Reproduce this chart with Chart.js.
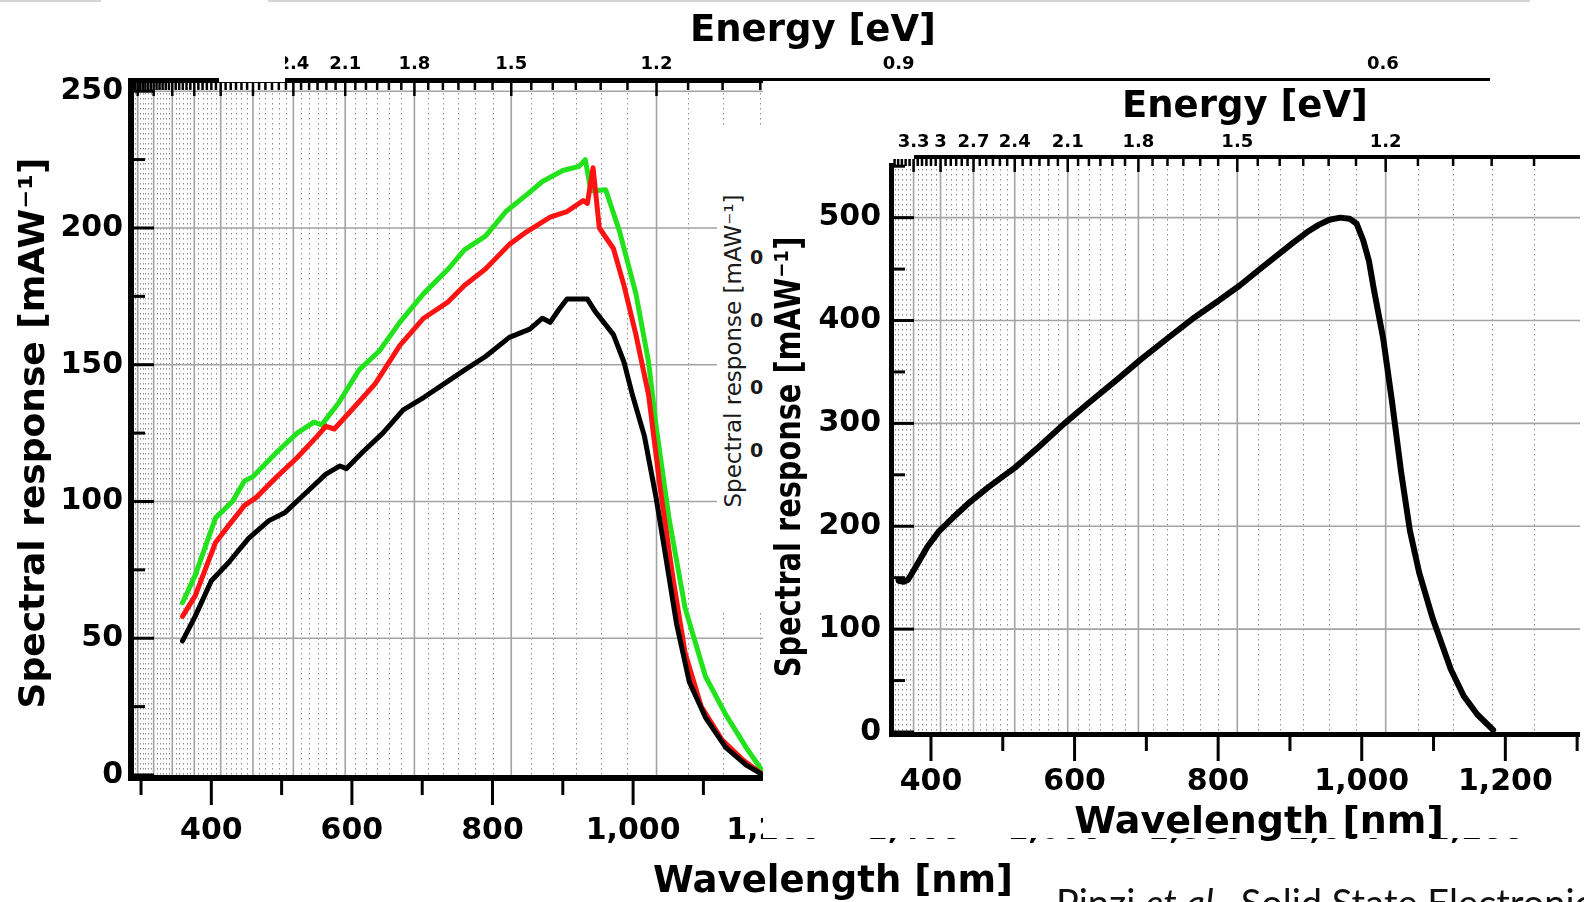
<!DOCTYPE html>
<html><head><meta charset="utf-8">
<script src="https://cdn.jsdelivr.net/npm/chart.js@4.4.1/dist/chart.umd.min.js"></script>
<style>
html,body{margin:0;padding:0;background:#fff;}
body{width:1584px;height:902px;position:relative;overflow:hidden;}
#c1{position:absolute;left:0;top:0;}
#cover{position:absolute;left:763px;top:81px;width:821px;height:757px;background:#fff;}
#c2{position:absolute;left:763px;top:81px;}
#labelCover{position:absolute;left:219px;top:45px;width:66px;height:37px;background:#fff;}
#frag{position:absolute;left:717px;top:128px;width:46px;height:482px;background:#fff;overflow:hidden;font-family:'DejaVu Sans',sans-serif;color:#1a1a1a;}
#frag .rt{position:absolute;left:-184px;top:209px;width:400px;height:28px;text-align:center;transform:rotate(-90deg);font-size:23px;line-height:28px;white-space:nowrap;}
#frag .z{position:absolute;left:33px;font-size:19px;font-weight:bold;line-height:22px;}
.gline{position:absolute;top:0;height:2px;background:#d6d6d6;}
#foot{position:absolute;left:1056px;top:879px;font-family:Lato,'Liberation Sans',sans-serif;font-size:38px;line-height:46px;color:#111;white-space:nowrap;}
</style>
</head><body>
<div class="gline" style="left:0;width:101px"></div>
<div class="gline" style="left:268px;width:1262px"></div>
<canvas id="c1" width="1584" height="902"></canvas>
<div id="labelCover"></div>
<div id="frag">
  <div class="rt">Spectral response [mAW⁻¹]</div>
  <div class="z" style="top:118px">0.</div>
  <div class="z" style="top:181px">0.</div>
  <div class="z" style="top:248px">0.</div>
  <div class="z" style="top:311px">0.</div>
</div>
<div id="cover"></div>
<canvas id="c2" width="821" height="779"></canvas>
<div id="foot">Pinzi <i>et al.</i>, Solid State Electronics</div>
<script>
// ---------------- data: left panel (three devices) ----------------
const blackWl = [359,377,400,424,453,482,505,534,563,583,592,615,644,673,702,731,760,790,824,853,871,882,894,906,935,946,972,987,999,1016,1033,1045,1062,1080,1103,1132,1161,1185];
const blackSr = [49,58,71,77.5,86.5,93,96,103,110,113,112,118,125,133.5,138,143,148,153,160,163,167,165.5,170,174,174,169.5,161,151,139,124,101,82,55,34,21,10,3.6,0];
const redWl = [359,377,406,424,447,464,493,522,551,563,575,598,633,668,702,737,760,790,824,848,882,906,929,935,943,952,972,987,1004,1022,1039,1057,1074,1097,1126,1155,1185];
const redSr = [58,65.5,85,91,98.5,101.5,109,116,124,127.5,126.5,133,143,157,167,173,179,185,194,198.5,204,206,210,209,222,200,192.5,179,161,139,104,71.5,44.6,25,13,5.8,0];
const greenWl = [359,377,406,430,447,459,493,522,546,557,581,610,639,668,702,737,760,790,819,848,871,900,923,932,940,961,981,1004,1022,1033,1051,1074,1103,1132,1161,1185];
const greenSr = [63,73,94,100,107.5,109,118,125,129,128,136,148,155,165.5,176,185,192,197,206,212,217,221,222.5,225,213.5,214,198.5,176,151,127,94,61,36,22,10,1];
// ---------------- data: right panel ----------------
const rightWl = [355,362,368,375,385,395,411,430,455,480,517,550,586,620,660,692,730,767,800,830,860,880,905,924,940,955,970,983,993,1002,1010,1017,1030,1042,1055,1067,1080,1099,1124,1142,1161,1183];
const rightSr = [147,146,148,156,168,180,195,208,224,238,257,277,300,320,343,362,383,403,419,434,451,462,476,486,493,498,500,499,494,478,458,430,382,322,252,196,155,110,61,35,17,2];
// ---------------- tick labels ----------------
const leftWlTicks = [300,400,500,600,700,800,900,1000,1100,1200,1300,1400,1500,1600,1700,1800,1900,2000,2100,2200];
const leftYTicks = [0,50,100,150,200,250];
const leftYMinor = [25,75,125,175,225];
const leftEnergyLabels = [2.4,2.1,1.8,1.5,1.2,0.9,0.6];
const rightWlTicks = [400,500,600,700,800,900,1000,1100,1200,1300];
const rightYTicks = [0,100,200,300,400,500];
const rightYMinor = [50,150,250,350,450,550];
const rightEnergyLabels = [3.3,3.0,2.7,2.4,2.1,1.8,1.5,1.2];

const FONT = "'DejaVu Sans', Verdana, sans-serif";
const HC = 1240; // eV*nm

function toPts(wl, sr){ return wl.map((w,i)=>({x:w,y:sr[i]})); }
function fmtE(e){ return Math.abs(e-3)<1e-9 ? '3' : e.toFixed(1); }

function energyMarks(minWl, maxWl){
  const major=[], minor=[];
  for (let k=1;k<=100;k++){
    const e=k*0.05, wl=HC/e;
    if (wl<minWl||wl>maxWl) continue;
    (k%6===0?major:minor).push(wl);
  }
  return {major, minor};
}

function makeDecor(p){
  return {
    id:'decor',
    beforeDatasetsDraw(chart){
      const {ctx, chartArea:a} = chart, xs=chart.scales.x, ys=chart.scales.y;
      const em = energyMarks(p.xmin, p.xmax);
      ctx.save();
      ctx.beginPath(); ctx.rect(a.left,a.top,a.right-a.left,a.bottom-a.top); ctx.clip();
      ctx.strokeStyle='#8c8c8c'; ctx.lineWidth=1; ctx.setLineDash([1.5,3.5]);
      for (const wl of em.minor){ const px=Math.round(xs.getPixelForValue(wl))+0.5; ctx.beginPath(); ctx.moveTo(px,a.top); ctx.lineTo(px,a.bottom); ctx.stroke(); }
      ctx.setLineDash([]); ctx.strokeStyle='#a3a3a3'; ctx.lineWidth=1.6;
      for (const wl of em.major){ const px=xs.getPixelForValue(wl); ctx.beginPath(); ctx.moveTo(px,a.top); ctx.lineTo(px,a.bottom); ctx.stroke(); }
      for (const v of p.yTicks){ if (v<=0) continue; const py=ys.getPixelForValue(v); ctx.beginPath(); ctx.moveTo(a.left,py); ctx.lineTo(a.right,py); ctx.stroke(); }
      ctx.restore();
    },
    afterDatasetsDraw(chart){
      const {ctx, chartArea:a} = chart, xs=chart.scales.x, ys=chart.scales.y;
      const em = energyMarks(p.xmin, p.xmax);
      const ts = p.topStart||0, as = p.axisStart||0;
      ctx.save();
      ctx.fillStyle='#000'; ctx.strokeStyle='#000';
      ctx.fillRect(a.left-p.axW, a.top-p.topW+as, p.axW, a.bottom-a.top+p.topW+p.axW-as);
      ctx.fillRect(a.left-p.axW, a.bottom, a.right-a.left+p.axW, p.axW);
      ctx.fillRect(a.left-p.axW+ts, a.top-p.topW, a.right-a.left+p.axW-ts, p.topW);
      ctx.lineWidth=2.5;
      for (const wl of em.minor){ const px=xs.getPixelForValue(wl); ctx.beginPath(); ctx.moveTo(px,a.top); ctx.lineTo(px,a.top+7); ctx.stroke(); }
      for (const wl of em.major){ const px=xs.getPixelForValue(wl); ctx.beginPath(); ctx.moveTo(px,a.top); ctx.lineTo(px,a.top+13); ctx.stroke(); }
      ctx.lineWidth=3;
      for (const v of p.wlTicks){ const px=xs.getPixelForValue(v); const L = v%200===0?24:14; ctx.beginPath(); ctx.moveTo(px,a.bottom); ctx.lineTo(px,a.bottom+p.axW+L); ctx.stroke(); }
      for (const v of p.yTicks){ const py=ys.getPixelForValue(v); ctx.beginPath(); ctx.moveTo(a.left,py); ctx.lineTo(a.left+20,py); ctx.stroke(); }
      for (const v of p.yMinor){ const py=ys.getPixelForValue(v); ctx.beginPath(); ctx.moveTo(a.left,py); ctx.lineTo(a.left+11,py); ctx.stroke(); }
      ctx.restore();
    },
    afterDraw(chart){
      const ctx=chart.ctx;
      for (const t of p.titles){
        ctx.save();
        ctx.translate(t.x,t.y);
        if (t.rot) ctx.rotate(t.rot);
        if (t.sx) ctx.scale(t.sx,1);
        ctx.font = t.font; ctx.fillStyle='#000'; ctx.textAlign='center'; ctx.textBaseline='middle';
        ctx.fillText(t.text,0,0);
        ctx.restore();
      }
    }
  };
}

function buildChart(id, p, datasets){
  return new Chart(document.getElementById(id), {
    type:'line',
    data:{datasets},
    options:{
      responsive:false, animation:false, events:[],
      layout:{padding:{left:0,top:0,right:p.padRight,bottom:0}},
      plugins:{legend:{display:false}, tooltip:{enabled:false}},
      elements:{point:{radius:0}, line:{tension:0, borderJoinStyle:'round', borderCapStyle:'round'}},
      scales:{
        x:{type:'linear', position:'bottom', min:p.xmin, max:p.xmax,
           grid:{display:false, drawTicks:false}, border:{display:false},
           afterBuildTicks:s=>{ s.ticks = p.wlTicks.map(v=>({value:v})); },
           afterFit:s=>{ s.height = p.bottomH; },
           ticks:{autoSkip:false, maxRotation:0, minRotation:0, padding:0, color:'#000',
                  font:{family:FONT, size:30, weight:'bold', lineHeight:p.xLH},
                  callback:v=> v%200===0 ? v.toLocaleString('en-US') : ''}},
        xTop:{type:'linear', axis:'x', position:'top', min:p.xmin, max:p.xmax,
           grid:{display:false, drawTicks:false}, border:{display:false},
           afterBuildTicks:s=>{ s.ticks = p.eLabels.map(e=>({value:HC/e})); },
           afterFit:s=>{ s.height = p.topH; },
           ticks:{autoSkip:false, maxRotation:0, minRotation:0, padding:0, color:'#000',
                  font:{family:FONT, size:18, weight:'bold', lineHeight:p.topLH},
                  callback:(v,i)=> fmtE(p.eLabels[i])}},
        y:{type:'linear', position:'left', min:0, max:p.ymax,
           grid:{display:false, drawTicks:false}, border:{display:false},
           afterBuildTicks:s=>{ s.ticks = p.yTicks.map(v=>({value:v})); },
           afterFit:s=>{ s.width = p.leftW; },
           ticks:{autoSkip:false, padding:p.yPad, color:'#000', font:{family:FONT, size:30, weight:'bold'}}}
      }
    },
    plugins:[makeDecor(p)]
  });
}

// left panel
buildChart('c1', {
  xmin:290, xmax:2219, ymax:253,
  wlTicks:leftWlTicks, yTicks:leftYTicks, yMinor:leftYMinor, eLabels:leftEnergyLabels,
  leftW:134, topH:83, bottomH:127, padRight:94,
  xLH:3.77, topLH:2.11, yPad:11, axW:6, topW:5,
  titles:[
    {text:'Energy [eV]', x:813, y:31, font:"bold 37px "+FONT},
    {text:'Wavelength [nm]', x:833, y:882, font:"bold 37px "+FONT},
    {text:'Spectral response [mAW⁻¹]', x:35, y:433, rot:-Math.PI/2, font:"bold 36px "+FONT}
  ]
}, [
  {data:toPts(blackWl,blackSr), borderColor:'#000000', borderWidth:5},
  {data:toPts(redWl,redSr), borderColor:'#ff1212', borderWidth:5},
  {data:toPts(greenWl,greenSr), borderColor:'#22e21c', borderWidth:5}
]);

// right panel
buildChart('c2', {
  xmin:348.5, xmax:1304, ymax:557,
  wlTicks:rightWlTicks, yTicks:rightYTicks, yMinor:rightYMinor, eLabels:rightEnergyLabels,
  leftW:131, topH:78, bottomH:128, padRight:4,
  xLH:3.33, topLH:1.89, yPad:13, axW:5, topW:4, topStart:25, axisStart:8,
  titles:[
    {text:'Energy [eV]', x:482, y:26, font:"bold 37px "+FONT},
    {text:'Wavelength [nm]', x:496, y:742, font:"bold 38px "+FONT},
    {text:'Spectral response [mAW⁻¹]', x:28, y:376, rot:-Math.PI/2, sx:0.8, font:"bold 36px "+FONT}
  ]
}, [
  {data:toPts(rightWl,rightSr), borderColor:'#000000', borderWidth:6}
]);
</script>
</body></html>
